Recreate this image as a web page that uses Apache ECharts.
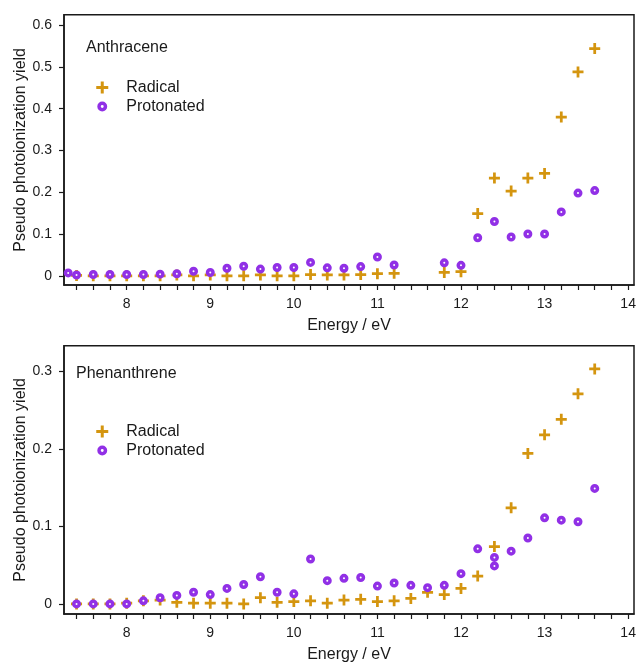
<!DOCTYPE html>
<html>
<head>
<meta charset="utf-8">
<script src="https://cdn.jsdelivr.net/npm/echarts@6/dist/echarts.min.js"></script>
<style>
html,body{margin:0;padding:0;background:#fff;}
#chart{width:640px;height:664px;}
</style>
</head>
<body>
<div id="chart"></div>
<script>
// ---- Anthracene (top panel) ----
const anthraceneRadicalE = [7.4,7.6,7.8,8.0,8.2,8.4,8.6,8.8,9.0,9.2,9.4,9.6,9.8,10.0,10.2,10.4,10.6,10.8,11.0,11.2,11.8,12.0,12.2,12.4,12.6,12.8,13.0,13.2,13.4,13.6];
const anthraceneRadicalY = [0.001,0.0,0.0,0.0,0.0,0.0,0.002,0.0,0.002,0.0,0.0,0.002,0.0,0.0,0.003,0.002,0.002,0.003,0.005,0.006,0.008,0.010,0.149,0.234,0.203,0.234,0.245,0.380,0.488,0.544];
const anthraceneProtonatedE = [7.3,7.4,7.6,7.8,8.0,8.2,8.4,8.6,8.8,9.0,9.2,9.4,9.6,9.8,10.0,10.2,10.4,10.6,10.8,11.0,11.2,11.8,12.0,12.2,12.4,12.6,12.8,13.0,13.2,13.4,13.6];
const anthraceneProtonatedY = [0.007,0.002,0.003,0.003,0.003,0.003,0.004,0.005,0.011,0.008,0.018,0.023,0.016,0.020,0.020,0.032,0.019,0.018,0.022,0.045,0.026,0.031,0.025,0.091,0.130,0.093,0.100,0.100,0.153,0.198,0.204];

// ---- Phenanthrene (bottom panel) ----
const phenanthreneRadicalE = [7.4,7.6,7.8,8.0,8.2,8.4,8.6,8.8,9.0,9.2,9.4,9.6,9.8,10.0,10.2,10.4,10.6,10.8,11.0,11.2,11.4,11.6,11.8,12.0,12.2,12.4,12.6,12.8,13.0,13.2,13.4,13.6];
const phenanthreneRadicalY = [0.0,0.0,0.0,0.001,0.004,0.005,0.002,0.001,0.001,0.001,0.0,0.008,0.002,0.003,0.004,0.001,0.005,0.006,0.003,0.004,0.007,0.015,0.012,0.020,0.036,0.074,0.124,0.194,0.218,0.238,0.271,0.303];
const phenanthreneProtonatedE = [7.4,7.6,7.8,8.0,8.2,8.4,8.6,8.8,9.0,9.2,9.4,9.6,9.8,10.0,10.2,10.4,10.6,10.8,11.0,11.2,11.4,11.6,11.8,12.0,12.2,12.4,12.4,12.6,12.8,13.0,13.2,13.4,13.6];
const phenanthreneProtonatedY = [0.0,0.0,0.0,0.0,0.004,0.008,0.011,0.015,0.012,0.020,0.025,0.035,0.015,0.013,0.058,0.030,0.033,0.034,0.023,0.027,0.024,0.021,0.024,0.039,0.071,0.060,0.049,0.068,0.085,0.111,0.108,0.106,0.149];

// ---- ticks / labels ----
const xTickValues = [7.4,7.6,7.8,8.0,8.2,8.4,8.6,8.8,9.0,9.2,9.4,9.6,9.8,10.0,10.2,10.4,10.6,10.8,11.0,11.2,11.4,11.6,11.8,12.0,12.2,12.4,12.6,12.8,13.0,13.2,13.4,13.6,13.8,14.0];
const xLabelValues = [8,9,10,11,12,13,14];
const yTopLabelValues = [0,0.1,0.2,0.3,0.4,0.5,0.6];
const yBottomLabelValues = [0,0.1,0.2,0.3];

const titles = ['Anthracene','Phenanthrene'];
const seriesNames = ['Radical','Protonated'];
const xName = 'Energy / eV';
const yName = 'Pseudo photoionization yield';

const GOLD = '#d4950f';
const PURPLE = '#9130e6';
const INK = '#1a1a1a';
const FONT = 'Liberation Sans, Arial, Helvetica, sans-serif';
const PLUS = 'path://M4.5,0H7.5V4.5H12V7.5H7.5V12H4.5V7.5H0V4.5H4.5Z';
const RING_ICON = 'path://M0,0M12,12M6,2.8A3.2,3.2,0,1,1,5.999,2.8Z';

function zip(a,b){return a.map((v,i)=>[v,b[i]]);}

function xAxis(gi){
  return {
    type:'value', gridIndex:gi, min:7.25, max:14.07,
    name:xName, nameLocation:'middle', nameGap:33, nameMoveOverlap:false,
    nameTextStyle:{fontSize:16,color:INK,fontFamily:FONT},
    axisLine:{show:true,onZero:false,lineStyle:{color:INK,width:1.5}},
    axisTick:{show:true,inside:false,length:5,customValues:xTickValues,lineStyle:{color:INK,width:1.2}},
    axisLabel:{show:true,customValues:xLabelValues,fontSize:14,color:INK,fontFamily:FONT,margin:12,
      formatter:v=>String(Math.round(v))},
    splitLine:{show:false}
  };
}
function yAxis(gi,min,max,labels){
  return {
    type:'value', gridIndex:gi, min:min, max:max,
    name:yName, nameLocation:'middle', nameGap:35, nameRotate:90, nameMoveOverlap:false,
    nameTextStyle:{fontSize:16,color:INK,fontFamily:FONT},
    axisLine:{show:true,onZero:false,lineStyle:{color:INK,width:1.5}},
    axisTick:{show:true,inside:false,length:5,customValues:labels,lineStyle:{color:INK,width:1.2}},
    axisLabel:{show:true,customValues:labels,fontSize:14,color:INK,fontFamily:FONT,margin:12,
      formatter:v=>(Math.abs(v)<1e-9?'0':String(Math.round(v*10)/10))},
    splitLine:{show:false}
  };
}
function radical(gi,e,y){
  return {name:seriesNames[0],type:'scatter',xAxisIndex:gi,yAxisIndex:gi,
    symbol:PLUS,symbolSize:11,itemStyle:{color:GOLD,opacity:1},data:zip(e,y),z:2,silent:true};
}
function protonated(gi,e,y){
  return {name:seriesNames[1],type:'scatter',xAxisIndex:gi,yAxisIndex:gi,
    symbol:'circle',symbolSize:5.5,itemStyle:{color:'#ffffff',borderColor:PURPLE,borderWidth:3.5,opacity:1},
    data:zip(e,y),z:3,silent:true};
}
function legend(gi,top){
  return {
    orient:'vertical', left:89.5, top:top, itemWidth:12, itemHeight:12, itemGap:0,
    data:[
      {name:seriesNames[0],icon:PLUS,itemStyle:{color:GOLD,borderWidth:0,opacity:1}},
      {name:seriesNames[1],icon:RING_ICON,itemStyle:{color:'#ffffff',borderColor:PURPLE,borderWidth:3.5,opacity:1}}
    ],
    textStyle:{fontSize:16,color:INK,fontFamily:FONT,lineHeight:19,padding:[0,0,0,13]},
    selectedMode:false
  };
}

const chart = echarts.init(document.getElementById('chart'),null,{renderer:'canvas'});
chart.setOption({
  animation:false,
  backgroundColor:'#ffffff',
  title:[
    {text:titles[0],left:86,top:40,textStyle:{fontSize:16,fontWeight:'normal',color:INK,fontFamily:FONT},padding:0},
    {text:titles[1],left:76,top:366,textStyle:{fontSize:16,fontWeight:'normal',color:INK,fontFamily:FONT},padding:0}
  ],
  grid:[
    {left:64,top:14.7,width:570,height:270.3,show:true,borderColor:INK,borderWidth:1.5,containLabel:false},
    {left:64,top:345.7,width:570,height:270.3,show:true,borderColor:INK,borderWidth:1.5,containLabel:false}
  ],
  legend:[legend(0,73),legend(1,417)],
  xAxis:[xAxis(0),xAxis(1)],
  yAxis:[yAxis(0,-0.022,0.625,yTopLabelValues),yAxis(1,-0.013,0.333,yBottomLabelValues)],
  series:[
    radical(0,anthraceneRadicalE,anthraceneRadicalY),
    protonated(0,anthraceneProtonatedE,anthraceneProtonatedY),
    radical(1,phenanthreneRadicalE,phenanthreneRadicalY),
    protonated(1,phenanthreneProtonatedE,phenanthreneProtonatedY)
  ]
});
</script>
</body>
</html>
